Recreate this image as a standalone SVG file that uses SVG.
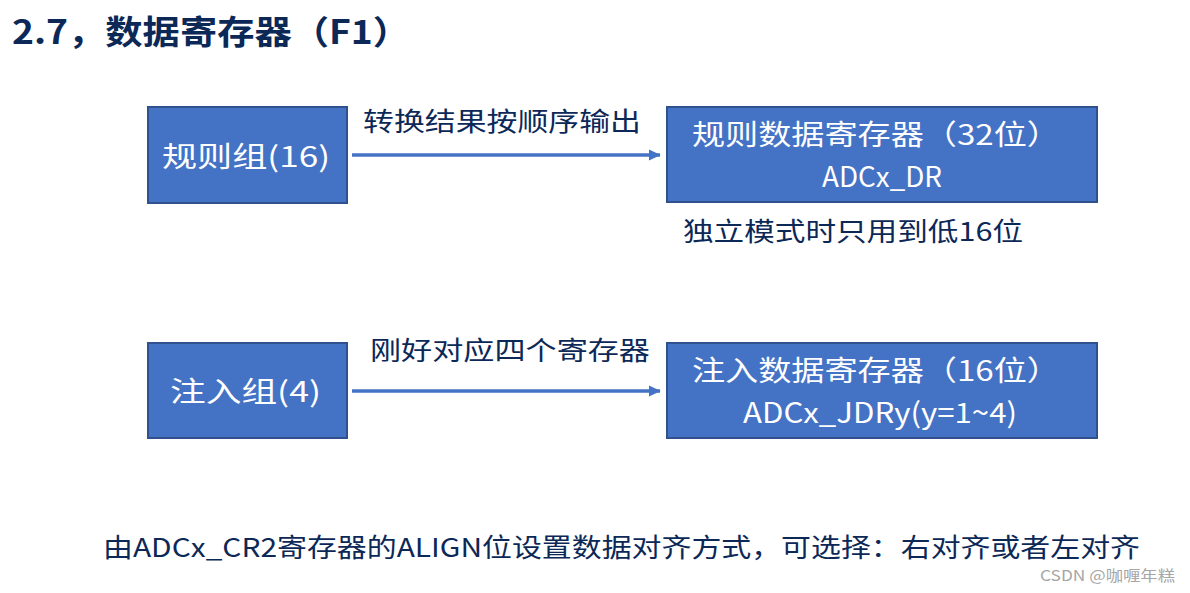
<svg xmlns="http://www.w3.org/2000/svg" width="1190" height="593" viewBox="0 0 1190 593">
<style>
.box{fill:#4472c4;stroke:#2f528f;stroke-width:2}
.w{fill:#ffffff;font-family:"Noto Sans CJK SC",sans-serif}
.d{fill:#0c2857;font-family:"Noto Sans CJK SC",sans-serif}
.conn{stroke:#4472c4;stroke-width:3.5;fill:none}
</style>
<defs>
<marker id="ah" markerWidth="4" markerHeight="4" refX="3.2" refY="2" orient="auto" markerUnits="strokeWidth">
<path d="M0,0.4 L3.4,2 L0,3.6 Z" fill="#4472c4"/>
</marker>
</defs>
<rect width="1190" height="593" fill="#ffffff"/>
<text class="d" x="12" y="44" font-size="33" font-weight="bold" textLength="398" lengthAdjust="spacingAndGlyphs">2.7，数据寄存器（F1）</text>
<g id="n1">
<rect class="box" x="148" y="107" width="199" height="96"/>
<text class="w" x="162" y="167" font-size="28" textLength="168" lengthAdjust="spacingAndGlyphs">规则组(16)</text>
</g>
<g id="n2">
<rect class="box" x="667" y="107" width="430" height="95"/>
<text class="w" x="692" y="145" font-size="28" textLength="368" lengthAdjust="spacingAndGlyphs">规则数据寄存器（32位）</text>
<text class="w" x="822" y="187" font-size="28" textLength="120" lengthAdjust="spacingAndGlyphs">ADCx_DR</text>
</g>
<g id="n3">
<rect class="box" x="148" y="343" width="199" height="95"/>
<text class="w" x="170" y="402" font-size="28" textLength="151" lengthAdjust="spacingAndGlyphs">注入组(4)</text>
</g>
<g id="n4">
<rect class="box" x="667" y="343" width="430" height="95"/>
<text class="w" x="692" y="381" font-size="28" textLength="368" lengthAdjust="spacingAndGlyphs">注入数据寄存器（16位）</text>
<text class="w" x="743" y="423" font-size="28" textLength="274" lengthAdjust="spacingAndGlyphs">ADCx_JDRy(y=1~4)</text>
</g>
<g id="connectors">
<line class="conn" x1="352" y1="155" x2="660" y2="155" marker-end="url(#ah)"/>
<line class="conn" x1="352" y1="391" x2="660" y2="391" marker-end="url(#ah)"/>
</g>
<text class="d" x="363" y="131" font-size="26" textLength="278" lengthAdjust="spacingAndGlyphs">转换结果按顺序输出</text>
<text class="d" x="370" y="360" font-size="26" textLength="280" lengthAdjust="spacingAndGlyphs">刚好对应四个寄存器</text>
<text class="d" x="683" y="241" font-size="26" textLength="340" lengthAdjust="spacingAndGlyphs">独立模式时只用到低16位</text>
<text class="d" x="103" y="557" font-size="26" textLength="1037" lengthAdjust="spacingAndGlyphs">由ADCx_CR2寄存器的ALIGN位设置数据对齐方式，可选择：右对齐或者左对齐</text>
<text x="1040" y="581" font-size="15" fill="#a6a6a6" font-family="'Noto Sans CJK SC',sans-serif" textLength="135" lengthAdjust="spacingAndGlyphs">CSDN @咖喱年糕</text>
</svg>
